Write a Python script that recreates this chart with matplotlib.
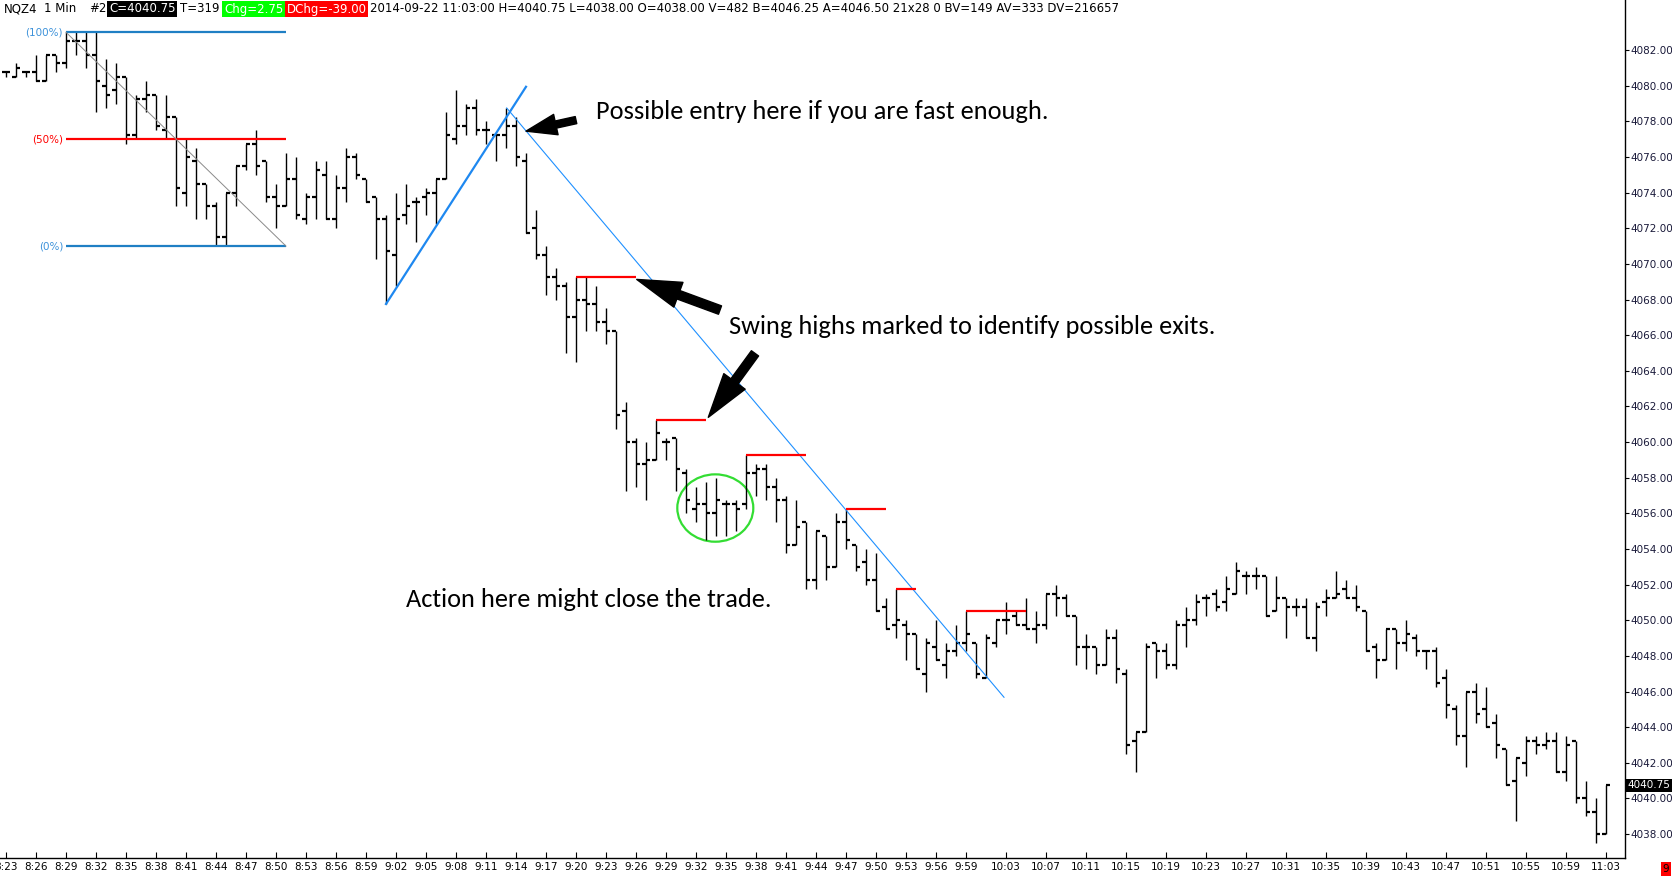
import matplotlib
matplotlib.use('Agg')
import matplotlib.pyplot as plt
from matplotlib.patches import Ellipse
from matplotlib.ticker import FixedLocator, FormatStrFormatter
import numpy as np

# NQZ4 1 min bars, first bar 8:23
start_minute = 8 * 60 + 23
opens = [4080.75, 4080.5, 4080.75, 4080.75, 4080.25, 4081.75, 4081.25, 4082.5, 4082.5, 4081.75,
         4080, 4079.75, 4080.5, 4077.25, 4079.25, 4079.5, 4077.5, 4078.25, 4074, 4075.75,
         4074.5, 4073.25, 4071.5, 4074, 4075.5, 4076.75, 4075.75, 4073.75, 4073.25, 4074.75,
         4072.5, 4073.75, 4075, 4072.5, 4074.25, 4076, 4074.75, 4073.75, 4072.5, 4070.5,
         4072.75, 4073.5, 4073.75, 4074, 4074.75, 4077, 4077.75, 4078.75, 4077.5, 4077.25,
         4077.25, 4077.75, 4075.75, 4072, 4070.5, 4069.25, 4068.75, 4067, 4068, 4067.75,
         4066.75, 4066.25, 4061.75, 4060, 4058.75, 4059, 4060, 4060.25, 4058.25, 4056.25,
         4056.5, 4056, 4056.5, 4056.5, 4056.5, 4058.25, 4058.5, 4057.5, 4056.75, 4054.25,
         4055.5, 4052.25, 4054.75, 4053, 4055.5, 4054.25, 4053.25, 4052.25, 4050.75, 4049.75,
         4049.75, 4049.25, 4047, 4048.5, 4047.5, 4048.25, 4048.75, 4048.75, 4046.75, 4048.75,
         4050, 4050.25, 4049.75, 4049.5, 4049.75, 4051.5, 4051.25, 4050.25, 4048.5, 4048.5,
         4047.5, 4049, 4047, 4043.25, 4043.75, 4048.75, 4048.25, 4047.5, 4049.75, 4050,
         4051.25, 4051.5, 4051, 4051.5, 4052.5, 4052.5, 4052.5, 4050.5, 4051.25, 4050.75,
         4050.75, 4049, 4051, 4051.25, 4051.75, 4051.25, 4050.5, 4048.5, 4047.75, 4049.5,
         4048.75, 4049, 4048.25, 4048.25, 4046.75, 4045, 4043.5, 4046, 4045, 4044.25,
         4042.75, 4041, 4042, 4043.25, 4043, 4043.25, 4041.5, 4043.25, 4040, 4039.25,
         4038]
highs = [4080.75, 4081.25, 4080.75, 4081.75, 4081.75, 4081.75, 4083, 4083, 4083, 4083,
         4081.5, 4081.25, 4080.5, 4079.5, 4080.25, 4079.5, 4079.5, 4078.25, 4077, 4076.5,
         4074.5, 4073.5, 4074, 4075.5, 4076.75, 4077.5, 4075.75, 4074.5, 4076.25, 4076,
         4074, 4075.75, 4075.75, 4075, 4076.5, 4076.25, 4074.75, 4073.75, 4072.75, 4074,
         4074.5, 4073.75, 4074.25, 4074.75, 4078.5, 4079.75, 4079, 4079.25, 4078, 4077.25,
         4078.75, 4078.25, 4076.25, 4073, 4071, 4069.75, 4069, 4069.25, 4069.25, 4068.75,
         4067.5, 4066.25, 4062.25, 4060.25, 4060, 4061.25, 4060.25, 4060.25, 4058.5, 4057.5,
         4057.75, 4058, 4056.75, 4056.75, 4059.25, 4058.75, 4058.75, 4058, 4057, 4056.75,
         4055.5, 4055, 4054.75, 4056, 4056.25, 4054.25, 4054, 4053.75, 4051.25, 4051.75,
         4050, 4049.25, 4049, 4050, 4048.75, 4049.75, 4050.5, 4048.75, 4049.25, 4050,
         4051, 4050.5, 4051.25, 4050.5, 4051.5, 4052, 4051.5, 4050.25, 4049.25, 4048.5,
         4049.5, 4049.5, 4047.25, 4043.75, 4048.75, 4048.75, 4048.75, 4050, 4050.75, 4051.5,
         4051.5, 4051.75, 4052.5, 4053.25, 4052.75, 4053, 4052.5, 4052.5, 4051.25, 4051.25,
         4051.25, 4051, 4051.75, 4052.75, 4052.25, 4052, 4050.5, 4048.75, 4049.5, 4049.5,
         4050, 4049.25, 4048.25, 4048.5, 4047.25, 4045.25, 4046, 4046.5, 4046.25, 4044.75,
         4042.75, 4042.25, 4043.5, 4043.5, 4043.75, 4043.75, 4043.5, 4043.25, 4041, 4040,
         4040.75]
lows = [4080.5, 4080.5, 4080.5, 4080.25, 4080.25, 4080.75, 4081, 4081.75, 4081, 4078.5,
        4078.75, 4079, 4076.75, 4077, 4078.5, 4077.5, 4077, 4073.25, 4073.25, 4072.5,
        4072.5, 4071, 4071, 4073.25, 4075.25, 4075, 4073.5, 4072, 4073.25, 4072.5,
        4072.25, 4072.5, 4072.5, 4072, 4073.5, 4074.75, 4073.5, 4070.25, 4067.75, 4068.75,
        4072.25, 4071.25, 4072.75, 4072.25, 4074.75, 4076.75, 4077.25, 4077.25, 4076.75, 4075.75,
        4076.5, 4075.5, 4071.75, 4070.25, 4068.25, 4068, 4065, 4064.5, 4066.25, 4066.25,
        4065.5, 4060.75, 4057.25, 4057.5, 4056.75, 4059, 4059, 4057.25, 4056, 4055.5,
        4054.5, 4054.75, 4054.75, 4055, 4056.25, 4057, 4056.75, 4055.5, 4053.75, 4054.25,
        4051.75, 4051.75, 4052.25, 4053, 4054, 4052.75, 4052, 4050.5, 4049.5, 4049,
        4047.75, 4047.25, 4046, 4047.75, 4046.75, 4048, 4048.25, 4046.75, 4046.75, 4048.5,
        4049.25, 4049.75, 4049.5, 4048.75, 4049.5, 4050.25, 4050.25, 4047.5, 4047.25, 4047,
        4047.5, 4046.5, 4042.5, 4041.5, 4043.75, 4046.75, 4047.25, 4047.25, 4048.5, 4049.75,
        4050.25, 4050.5, 4050.5, 4051.5, 4051.5, 4051.75, 4050.25, 4050.5, 4049, 4050.25,
        4049, 4048.25, 4050.25, 4051.25, 4051.25, 4050.5, 4048.25, 4046.75, 4047.75, 4047.25,
        4048.25, 4048, 4047.25, 4046.25, 4044.5, 4043, 4041.75, 4044.25, 4044, 4042.25,
        4040.75, 4038.75, 4041.25, 4042.5, 4042.75, 4041.5, 4041, 4039.75, 4039, 4037.5,
        4038]
closes = [4080.75, 4081, 4080.75, 4080.25, 4081.75, 4081.25, 4082.5, 4082.5, 4081.75, 4080.25,
          4079.5, 4080.5, 4077.25, 4079.25, 4079.5, 4077.75, 4078.25, 4074.25, 4076, 4074.5,
          4073.25, 4071.5, 4074, 4075.5, 4076.75, 4075.5, 4073.75, 4073.25, 4074.75, 4072.75,
          4073.75, 4075.25, 4072.5, 4074.25, 4076, 4075, 4073.5, 4072.5, 4070.75, 4072.5,
          4073.25, 4073.5, 4074, 4074.75, 4077.25, 4077.75, 4078.75, 4077.5, 4077.5, 4077.25,
          4077.75, 4076, 4071.75, 4070.5, 4069.25, 4068.75, 4067, 4068, 4067.75, 4066.75,
          4066.25, 4061.5, 4060, 4058.75, 4059, 4060.5, 4060, 4058.5, 4056.75, 4056.5,
          4056, 4056.75, 4056.5, 4056.25, 4058.25, 4058.5, 4057.5, 4056.75, 4054.25, 4055.25,
          4052.25, 4055, 4053, 4055.5, 4054.5, 4053, 4052.25, 4050.5, 4049.5, 4050,
          4049.25, 4047.25, 4048.75, 4047.75, 4048.25, 4048.75, 4049.25, 4047, 4049, 4050,
          4050, 4049.75, 4049.5, 4049.75, 4051.5, 4051.25, 4050.25, 4048.5, 4048.5, 4047.5,
          4049, 4047.25, 4043, 4043.75, 4048.5, 4048.25, 4047.5, 4049.75, 4050, 4051,
          4051.25, 4050.75, 4051.75, 4052.75, 4052.5, 4052.5, 4050.25, 4051.25, 4050.75, 4050.75,
          4049, 4050.75, 4051.25, 4051.5, 4051.25, 4050.75, 4048.25, 4047.75, 4049.5, 4048.75,
          4049.25, 4048.25, 4048.25, 4046.5, 4045.25, 4043.5, 4046, 4044.75, 4044, 4043,
          4040.75, 4042.25, 4043.25, 4043, 4043.25, 4041.5, 4043, 4040, 4039.25, 4038,
          4040.75]

tick_labels = ['8:23', '8:26', '8:29', '8:32', '8:35', '8:38', '8:41', '8:44', '8:47', '8:50',
               '8:53', '8:56', '8:59', '9:02', '9:05', '9:08', '9:11', '9:14', '9:17', '9:20',
               '9:23', '9:26', '9:29', '9:32', '9:35', '9:38', '9:41', '9:44', '9:47', '9:50',
               '9:53', '9:56', '9:59', '10:03', '10:07', '10:11', '10:15', '10:19', '10:23',
               '10:27', '10:31', '10:35', '10:39', '10:43', '10:47', '10:51', '10:55', '10:59',
               '11:03']
price_ticks = [4038, 4040, 4042, 4044, 4046, 4048, 4050, 4052, 4054, 4056, 4058, 4060,
               4062, 4064, 4066, 4068, 4070, 4072, 4074, 4076, 4078, 4080, 4082]

# drawing tools on the chart
fib_bars = [6, 28]
swing_bars = [57, 65, 74, 84, 89, 96]
swing_len = [6, 5, 6, 4, 2, 6]
up_trend = [(38, 4067.75), (52, 4079.94)]
down_trend = [(50.07, 4078.75), (99.8, 4045.68)]

header = [("NQZ4", None, 'black', 7), ("1 Min", None, 'black', 12), ("#2", None, 'black', 3),
          ("C=4040.75", 'black', 'white', 4), ("T=319", None, 'black', 5),
          ("Chg=2.75", '#00ff00', 'white', 3), ("DChg=-39.00", 'red', 'white', 4),
          ("2014-09-22 11:03:00 H=4040.75 L=4038.00 O=4038.00 V=482 B=4046.25 A=4046.50 "
           "21x28 0 BV=149 AV=333 DV=216657", None, 'black', 0)]

W, H = 1672, 876
small = ['Liberation Sans Narrow', 'DejaVu Sans']
note = ['Carlito', 'Lato', 'DejaVu Sans']

n = len(opens)
bar_times = ['%d:%02d' % divmod(start_minute + i, 60) for i in range(n)]
x = np.arange(n)
opens, highs, lows, closes = map(np.array, (opens, highs, lows, closes))

fig = plt.figure(figsize=(W / 100, H / 100), dpi=100)
fig.patch.set_facecolor('white')
ax = fig.add_axes([0, 1 - 858 / H, 1625 / W, 858 / H])
ax.set_xlim(-0.6, 161.9)
ax.set_ylim(4036.66, 4084.81)

# OHLC bars
ax.vlines(x, lows, highs, color='black', lw=1.0)
ax.hlines(opens, x - 0.42, x, color='black', lw=1.6)
ax.hlines(closes, x, x + 0.42, color='black', lw=1.6)

# fib retracement
f0, f1 = fib_bars
fib_hi = highs[f0:f1 + 1].max()
fib_lo = lows[f0:f1 + 1].min()
fib_mid = (fib_hi + fib_lo) / 2
ax.hlines([fib_hi, fib_lo], f0, f1, color='#1f7fc4', lw=1.6)
ax.hlines(fib_mid, f0, f1, color='red', lw=1.6)
ax.plot([f0, f1], [fib_hi, fib_lo], color='#8a8a8a', lw=0.7)
for val, lab, col in [(fib_hi, '(100%)', '#3d92da'), (fib_mid, '(50%)', 'red'), (fib_lo, '(0%)', '#3d92da')]:
    ax.text(f0 - 0.3, val, lab, ha='right', va='center', fontsize=7.5, color=col, family=small)

# trend lines
ax.plot([p[0] for p in up_trend], [p[1] for p in up_trend], color='#1e88f0', lw=1.6)
ax.plot([p[0] for p in down_trend], [p[1] for p in down_trend], color='#1e90ff', lw=0.8)

# swing highs
for b, ln in zip(swing_bars, swing_len):
    ax.hlines(highs[b], b, b + ln, color='red', lw=1.6)

ax.add_patch(Ellipse((70.93, 4056.3), 7.6, 3.78, fill=False, ec='#33dd33', lw=1.6))

# arrows
big = dict(arrowstyle='simple,head_length=1.6,head_width=0.95,tail_width=0.32',
           mutation_scale=20, color='black', shrinkA=0, shrinkB=0)
small_arrow = dict(arrowstyle='simple,head_length=1.1,head_width=0.75,tail_width=0.26',
                   mutation_scale=20, color='black', shrinkA=0, shrinkB=0)
ax.annotate('', xy=(52.0, 4077.45), xytext=(57.0, 4078.07), arrowprops=small_arrow)
ax.annotate('', xy=(63.07, 4069.13), xytext=(71.4, 4067.41), arrowprops=big)
ax.annotate('', xy=(70.23, 4061.39), xytext=(74.9, 4064.98), arrowprops=big)

ax.text(59.0, 4078.58, 'Possible entry here if you are fast enough.', fontsize=19,
        family=note, ha='left', va='center')
ax.text(72.3, 4066.46, 'Swing highs marked to identify possible exits.', fontsize=19,
        family=note, ha='left', va='center')
ax.text(40.0, 4051.19, 'Action here might close the trade.', fontsize=19,
        family=note, ha='left', va='center')

# axes styling
for s in ['left', 'top']:
    ax.spines[s].set_visible(False)
ax.spines['right'].set_linewidth(1.0)
ax.spines['bottom'].set_linewidth(1.0)
ax.yaxis.tick_right()
ax.yaxis.set_major_locator(FixedLocator(price_ticks))
ax.yaxis.set_major_formatter(FormatStrFormatter('%.2f'))
ax.tick_params(axis='y', direction='out', length=3, pad=1, labelsize=7.5, labelcolor='#1a1a3a')
ax.set_xticks([bar_times.index(t) for t in tick_labels])
ax.set_xticklabels(tick_labels)
ax.tick_params(axis='x', direction='in', length=4, pad=3, labelsize=7.5)
for lab in ax.get_xticklabels() + ax.get_yticklabels():
    lab.set_family(small)

ax.annotate('%.2f' % closes[-1], xy=(1, closes[-1]), xycoords=('axes fraction', 'data'),
            xytext=(1.5, 0), textcoords='offset points', ha='left', va='center', fontsize=7.5,
            family=small, color='white', annotation_clip=False,
            bbox=dict(boxstyle='square,pad=0.15', fc='black', ec='none'))

fig.text(1666 / W, 1 - 869 / H, '9', fontsize=7.5, ha='center', va='center', family=small,
         bbox=dict(boxstyle='square,pad=0.2', fc='red', ec='none'))

# header line
fig.canvas.draw()
r = fig.canvas.get_renderer()
hx = 4
for txt, bg, fg, gap in header:
    kw = {}
    if bg:
        kw['bbox'] = dict(boxstyle='square,pad=0.15', fc=bg, ec='none')
    t = fig.text(hx / W, 1 - 9 / H, txt, fontsize=8.5, color=fg, ha='left', va='center',
                 family=small, **kw)
    hx += t.get_window_extent(r).width + gap

fig.savefig('out.png', dpi=100)
